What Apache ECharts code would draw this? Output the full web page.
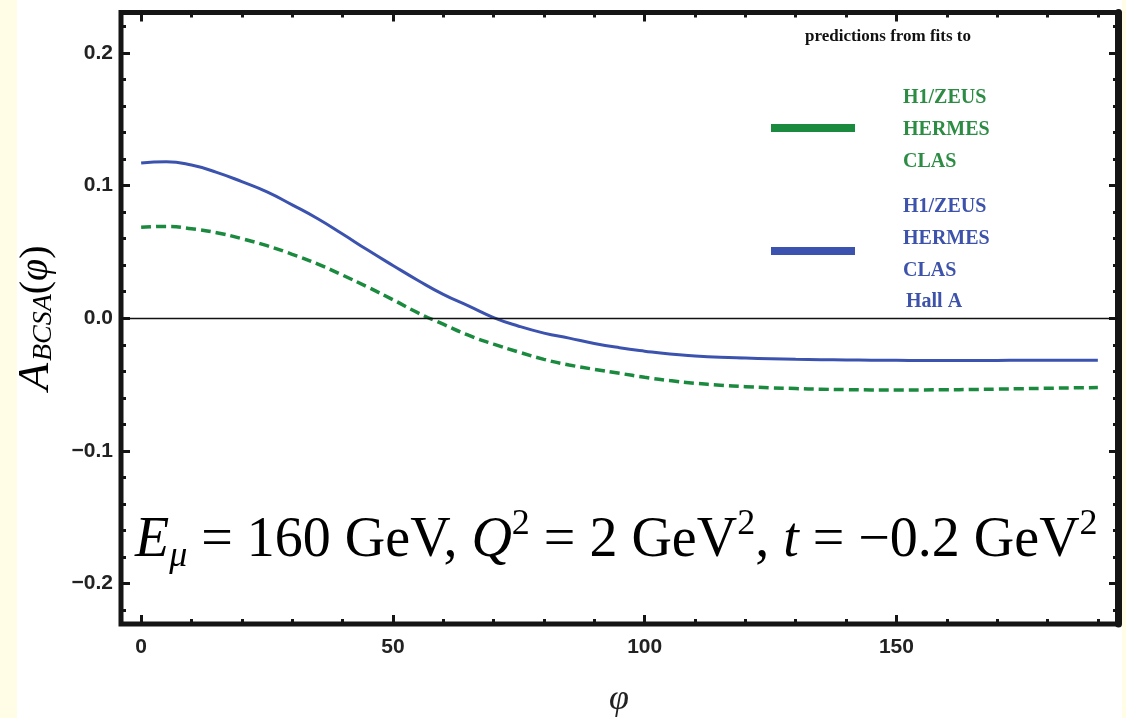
<!DOCTYPE html>
<html><head><meta charset="utf-8">
<script src="https://cdn.jsdelivr.net/npm/echarts@6/dist/echarts.min.js"></script>
<style>html,body{margin:0;padding:0;background:#fff}#c{width:1126px;height:718px}</style>
</head><body><div id="c"></div>
<script>
// ---- data ----
const phi = [0,5,10,15,20,25,30,35,40,45,50,55,60,65,70,75,80,85,90,95,100,105,110,115,120,125,130,135,140,145,150,155,160,165,170,175,180,185,190];
const blueFit = [0.117,0.118,0.1155,0.110,0.103,0.0953,0.0855,0.0752,0.0635,0.0514,0.0398,0.0285,0.018,0.0093,0.0005,-0.006,-0.0112,-0.015,-0.019,-0.0222,-0.0248,-0.027,-0.0284,-0.0294,-0.030,-0.0305,-0.0309,-0.0312,-0.0314,-0.0316,-0.0317,-0.0318,-0.0318,-0.0318,-0.0318,-0.0317,-0.0317,-0.0316,-0.0316];
const greenFit = [0.0686,0.0692,0.0675,0.0645,0.060,0.0547,0.0482,0.041,0.0325,0.0235,0.014,0.004,-0.0045,-0.0128,-0.0195,-0.0255,-0.031,-0.0352,-0.0385,-0.0415,-0.0445,-0.047,-0.049,-0.0505,-0.0516,-0.0524,-0.053,-0.0535,-0.0538,-0.054,-0.054,-0.054,-0.0539,-0.0537,-0.0534,-0.0531,-0.0528,-0.0525,-0.0522];
const xMajorTicks = [0,50,100,150];
const xMinorTicks = [10,20,30,40,60,70,80,90,110,120,130,140,160,170,180,190];
const yMajorTicks = [-0.2,-0.1,0,0.1,0.2];
const yMinorTicks = [-0.22,-0.18,-0.16,-0.14,-0.12,-0.08,-0.06,-0.04,-0.02,0.02,0.04,0.06,0.08,0.12,0.14,0.16,0.18,0.22];
const legendTitle = 'predictions from fits to';
const greenLegend = ['H1/ZEUS','HERMES','CLAS'];
const blueLegend = ['H1/ZEUS','HERMES','CLAS','Hall A'];

// ---- styles ----
const BLUE = '#3b53ae', GREEN = '#1a8a3e', BLUE_T = '#3d52aa', GREEN_T = '#2c8c44', INK = '#151515';
const X_MIN = -4, X_MAX = 194, Y_MIN = -0.2305, Y_MAX = 0.2305;

const chart = echarts.init(document.getElementById('c'), null, {renderer:'canvas'});
const tickStyle = {color: INK, width: 3};
function fmtY(v){ if (Math.abs(v) < 1e-9) return '0.0'; return (v<0?'\u2212':'') + Math.abs(v).toFixed(1); }
const labelFont = {fontFamily:'Liberation Sans', fontWeight:'bold', fontSize:21, color:'#222'};

function xAx(pos, ticks, len, labels){
  return {type:'value', position:pos, min:X_MIN, max:X_MAX,
    axisLine:{show:false, onZero:false}, splitLine:{show:false},
    axisTick:{show:true, inside:true, length:len, customValues:ticks, lineStyle:tickStyle},
    axisLabel: labels ? Object.assign({show:true, margin:13, customValues:ticks, formatter:v=>String(v)}, labelFont) : {show:false}};
}
function yAx(pos, ticks, len, labels, line){
  return {type:'value', position:pos, min:Y_MIN, max:Y_MAX,
    axisLine: line ? {show:true, onZero:false, lineStyle:{color:INK, width:7}} : {show:false, onZero:false},
    splitLine:{show:false},
    axisTick:{show:true, inside:true, length:len, customValues:ticks, lineStyle:tickStyle},
    axisLabel: labels ? Object.assign({show:true, margin:8, customValues:ticks, formatter:fmtY}, labelFont) : {show:false}};
}

const graphics = [
  {type:'rect', left:0, top:0, shape:{width:17, height:718}, style:{fill:'#fffde6'}, z:-10},
  {type:'rect', left:1122, top:0, shape:{width:4, height:718}, style:{fill:'#fffde6'}, z:-10},
  {type:'rect', shape:{x:128, y:488, width:980, height:112}, style:{fill:'#fafafa'}, z:-1},
  {type:'text', x:36, y:318, rotation:Math.PI/2, style:{
    text:'{a|A}{s|BCSA}{p|(}{f|φ}{p|)}', align:'center', verticalAlign:'middle',
    rich:{
      a:{fontFamily:'Liberation Serif', fontStyle:'italic', fontSize:45, color:'#222', lineHeight:44, verticalAlign:'middle'},
      s:{fontFamily:'Liberation Serif', fontStyle:'italic', fontSize:28, color:'#222', lineHeight:28, verticalAlign:'bottom', padding:[0,0,0,2]},
      p:{fontFamily:'Liberation Serif', fontSize:40, color:'#222', lineHeight:44, verticalAlign:'middle'},
      f:{fontFamily:'Liberation Serif', fontStyle:'italic', fontSize:40, color:'#222', lineHeight:44, verticalAlign:'middle'}
    }}},
  {type:'text', x:619, y:700, style:{text:'φ', fontFamily:'Liberation Serif', fontStyle:'italic', fontSize:36, fill:'#222', align:'center', verticalAlign:'middle'}},
  {type:'text', x:135, y:541, style:{
    text:'{i|E}{sub|μ}{n| = 160 GeV, }{i|Q}{sup|2}{n| = 2 GeV}{sup|2}{n|, }{i|t}{n| = \u22120.2 GeV}{sup|2}',
    align:'left', verticalAlign:'middle',
    rich:{
      n:{fontFamily:'Liberation Serif', fontSize:56, color:'#222', lineHeight:68, verticalAlign:'middle'},
      i:{fontFamily:'Liberation Serif', fontStyle:'italic', fontSize:56, color:'#222', lineHeight:68, verticalAlign:'middle'},
      sup:{fontFamily:'Liberation Serif', fontSize:36, color:'#222', lineHeight:36, verticalAlign:'top'},
      sub:{fontFamily:'Liberation Serif', fontStyle:'italic', fontSize:36, color:'#222', lineHeight:36, verticalAlign:'bottom'}
    }}},
  {type:'text', x:888, y:37, style:{text:legendTitle, fontFamily:'Liberation Serif', fontWeight:'bold', fontSize:17, fill:'#111', align:'center', verticalAlign:'middle'}},
  {type:'rect', shape:{x:771, y:124, width:84, height:8}, style:{fill:GREEN}},
  {type:'rect', shape:{x:771, y:247, width:84, height:8}, style:{fill:BLUE}}
];
greenLegend.forEach((t,i)=>graphics.push({type:'text', x:903, y:98+i*32, style:{text:t, fontFamily:'Liberation Serif', fontWeight:'bold', fontSize:20, fill:GREEN_T, align:'left', verticalAlign:'middle'}}));
blueLegend.forEach((t,i)=>graphics.push({type:'text', x:903 + (i===3?3:0), y:207+i*31.7, style:{text:t, fontFamily:'Liberation Serif', fontWeight:'bold', fontSize:20, fill:BLUE_T, align:'left', verticalAlign:'middle'}}));

chart.setOption({
  animation:false,
  backgroundColor:'#ffffff',
  grid:{left:121, right:8, top:12.5, bottom:94, show:true, borderColor:INK, borderWidth:5, backgroundColor:'#fff'},
  xAxis:[xAx('bottom', xMajorTicks, 9, true), xAx('bottom', xMinorTicks, 5, false), xAx('top', xMajorTicks, 9, false), xAx('top', xMinorTicks, 5, false)],
  yAxis:[yAx('left', yMajorTicks, 9, true, false), yAx('left', yMinorTicks, 5, false, false), yAx('right', yMajorTicks, 9, false, true), yAx('right', yMinorTicks, 5, false, false)],
  graphic: graphics,
  series:[
    {type:'line', name:'green', xAxisIndex:0, yAxisIndex:0, smooth:true, symbol:'none',
      data: phi.map((p,i)=>[p, greenFit[i]]), lineStyle:{color:GREEN, width:3.5, type:[10,5]}, z:3},
    {type:'line', name:'blue', xAxisIndex:0, yAxisIndex:0, smooth:true, symbol:'none',
      data: phi.map((p,i)=>[p, blueFit[i]]), lineStyle:{color:BLUE, width:3}, z:4,
      markLine:{silent:true, symbol:'none', label:{show:false}, lineStyle:{color:'#111', width:1.3, type:'solid'}, data:[{yAxis:0}]}}
  ]
});
</script></body></html>
